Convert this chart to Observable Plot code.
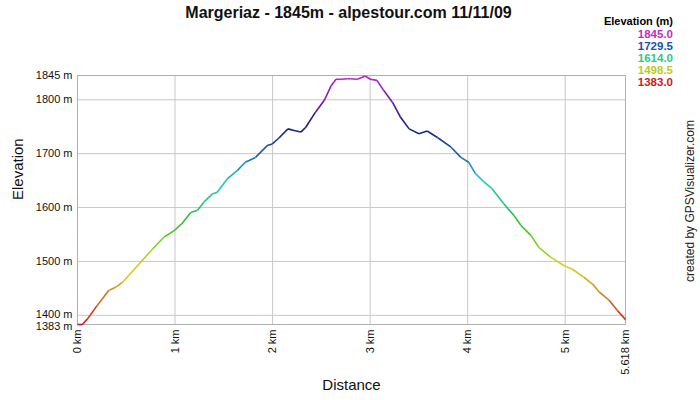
<!DOCTYPE html>
<html><head><meta charset="utf-8">
<script src="https://cdn.jsdelivr.net/npm/d3@7"></script>
<script src="https://cdn.jsdelivr.net/npm/@observablehq/plot@0.6"></script>
<style>
body{margin:0;background:#fff;font-family:"Liberation Sans",Arial,sans-serif;}
#wrap{position:relative;width:700px;height:400px;}
#title{position:absolute;left:0;width:697px;top:4px;text-align:center;font-weight:bold;font-size:16px;color:#111;}
#legend{position:absolute;right:27px;top:15px;text-align:right;font-size:11px;font-weight:bold;line-height:12px;}
#credit{position:absolute;left:690px;top:201px;transform:translate(-50%,-50%) rotate(-90deg);white-space:nowrap;font-size:12px;color:#222;}
</style></head>
<body><div id="wrap"><div id="chart"></div><div id="title"></div><div id="legend"></div><div id="credit">created by GPSVisualizer.com</div></div>
<script>
const titleText = "Margeriaz - 1845m - alpestour.com 11/11/09";
const dist = [0, 0.05, 0.106, 0.2, 0.32, 0.39, 0.46, 0.65, 0.77, 0.885, 0.99, 1.07, 1.16, 1.23, 1.295, 1.38, 1.43, 1.535, 1.64, 1.72, 1.825, 1.945, 1.997, 2.065, 2.157, 2.22, 2.29, 2.34, 2.44, 2.53, 2.6, 2.65, 2.7, 2.77, 2.8, 2.87, 2.95, 3.0, 3.07, 3.14, 3.23, 3.31, 3.4, 3.5, 3.585, 3.69, 3.83, 3.93, 4.01, 4.08, 4.17, 4.25, 4.37, 4.475, 4.545, 4.65, 4.73, 4.85, 4.99, 5.07, 5.19, 5.28, 5.35, 5.45, 5.535, 5.618];
const elev = [1383, 1383, 1394, 1418, 1446, 1452, 1461, 1499, 1523, 1545, 1557, 1570, 1591, 1595, 1610, 1625, 1628, 1653, 1669, 1684, 1693, 1715, 1718, 1729, 1746, 1743, 1740, 1749, 1777, 1799, 1826, 1838, 1838, 1839, 1839, 1838, 1844, 1838, 1836, 1817, 1795, 1768, 1746, 1737, 1742, 1730, 1712, 1693, 1684, 1663, 1647, 1635, 1607, 1585, 1567, 1548, 1526, 1508, 1492, 1486, 1471, 1458, 1443, 1428, 1409, 1392];
const yTicks = [1383, 1400, 1500, 1600, 1700, 1800, 1845];
const xTicks = [0, 1, 2, 3, 4, 5, 5.618];
const legendTitle = "Elevation (m)";
const legendValues = ["1845.0", "1729.5", "1614.0", "1498.5", "1383.0"];
const legendColors = ["#c030c0", "#2050a8", "#30c888", "#b8cc20", "#c82020"];
const colorDomain = [1383, 1430, 1490, 1570, 1650, 1700, 1750, 1800, 1845];
const colorRange = ["#c81020", "#d07020", "#d8d820", "#30c030", "#20c8c8", "#2060b0", "#101c80", "#7020b0", "#c020d0"];

const n = Math.min(dist.length, elev.length);
const segs = [];
for (let i = 0; i < n - 1; i++) segs.push({x1: dist[i], y1: elev[i], x2: dist[i+1], y2: elev[i+1], e: (elev[i] + elev[i+1]) / 2});

document.getElementById("title").textContent = titleText;
const lg = document.getElementById("legend");
lg.innerHTML = `<div style="margin-bottom:1px">${legendTitle}</div>` + legendValues.map((v, i) => `<div style="color:${legendColors[i]};font-size:11.5px;height:12px">${v}</div>`).join("");

const fmtY = d => d + " m";
const chart = Plot.plot({
  width: 700, height: 400,
  marginLeft: 77, marginRight: 75, marginTop: 75, marginBottom: 76,
  style: {fontFamily: "'Liberation Sans', Arial, sans-serif", fontSize: "11px", color: "#111", background: "#fff"},
  x: {domain: [0, 5.618], label: null},
  y: {domain: [1383, 1845], label: null},
  color: {type: "linear", domain: colorDomain, range: colorRange, interpolate: "rgb"},
  marks: [
    Plot.ruleY(yTicks, {stroke: "#c8c8c8"}),
    Plot.ruleX(xTicks, {stroke: "#c8c8c8"}),
    Plot.frame({stroke: "#b0b0b0"}),
    Plot.axisY(yTicks.filter(d => d > 1400), {tickSize: 0, tickPadding: 5, tickFormat: fmtY, label: null}),
    Plot.axisY([1400], {tickSize: 0, tickPadding: 5, tickFormat: fmtY, label: null, dy: -1}),
    Plot.axisY([1383], {tickSize: 0, tickPadding: 5, tickFormat: fmtY, label: null, dy: 1.5}),
    Plot.axisX(xTicks, {tickSize: 0, tickPadding: 5, tickRotate: -90, tickFormat: d => d + " km", label: null}),
    Plot.link(segs, {x1: "x1", y1: "y1", x2: "x2", y2: "y2", stroke: "e", strokeWidth: 1.6}),
    Plot.text(["Elevation"], {frameAnchor: "left", dx: -59, rotate: -90, fontSize: 15, fill: "#111"}),
    Plot.text(["Distance"], {frameAnchor: "bottom", dy: 65, fontSize: 15, fill: "#111"})
  ]
});
document.getElementById("chart").appendChild(chart);
</script></body></html>
